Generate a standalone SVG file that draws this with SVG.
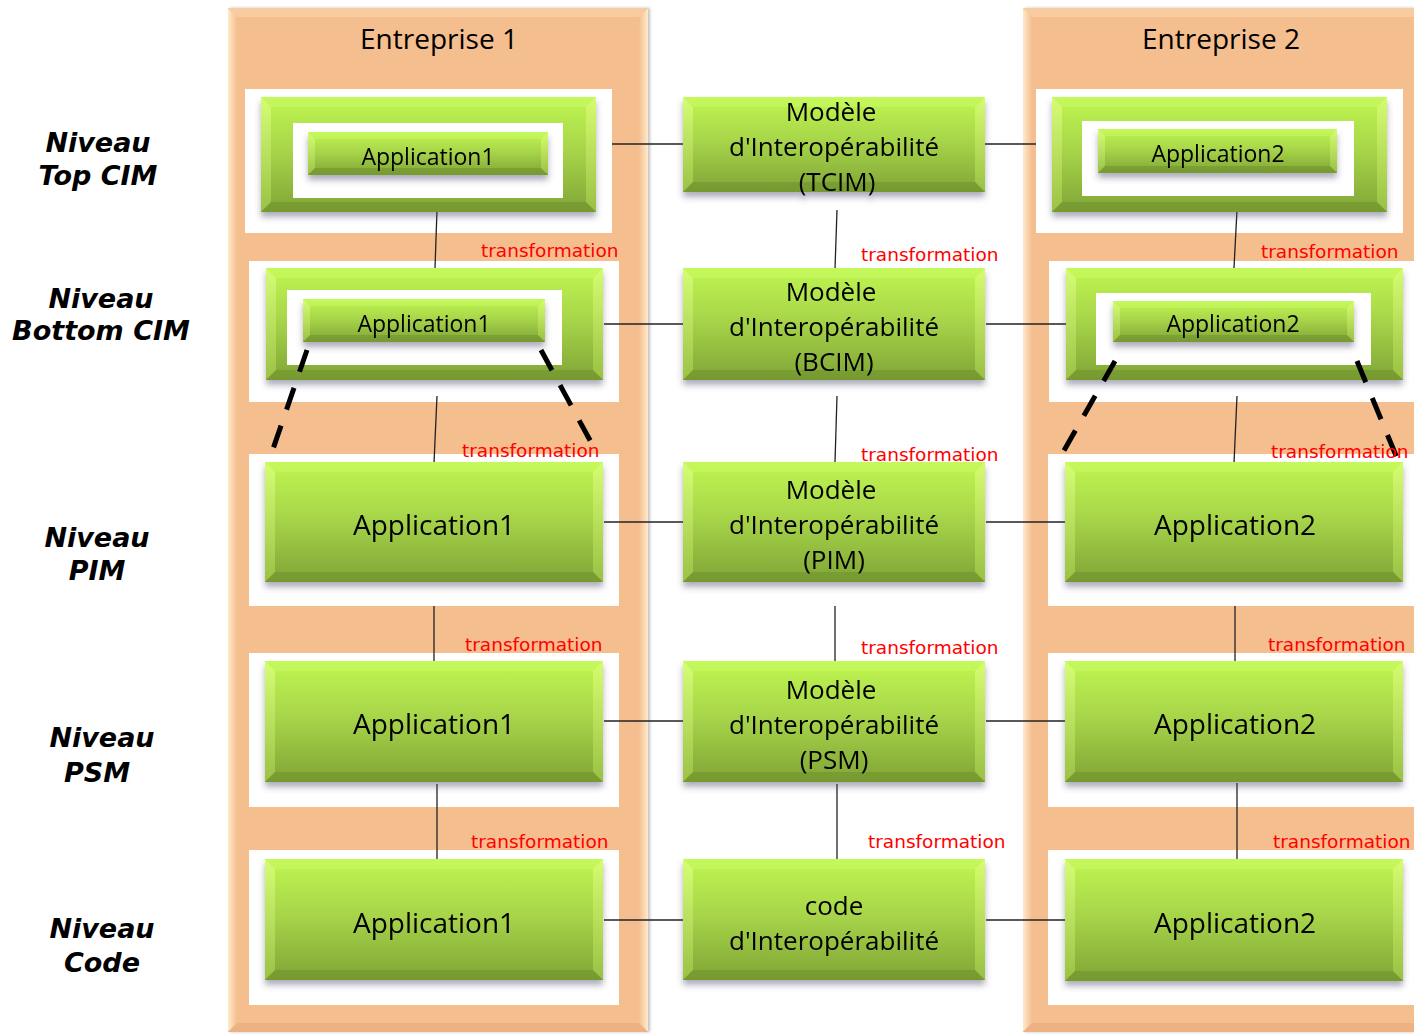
<svg xmlns="http://www.w3.org/2000/svg" width="1414" height="1034" viewBox="0 0 1414 1034">
<style>
.ttl{font-family:"Open Sans","Liberation Sans",sans-serif;font-size:28px;fill:#000;text-anchor:middle}
.big{font-family:"Open Sans","Liberation Sans",sans-serif;font-size:28px;fill:#000;text-anchor:middle}
.sm{font-family:"Open Sans","Liberation Sans",sans-serif;font-size:23px;fill:#000;text-anchor:middle}
.mid{font-family:"Open Sans","Liberation Sans",sans-serif;font-size:26px;fill:#000;text-anchor:middle}
.tr{font-family:"DejaVu Sans","Verdana",sans-serif;font-size:18.5px;fill:#FF0000}
.lvl{font-family:"DejaVu Sans","Verdana",sans-serif;font-size:27px;font-weight:bold;font-style:italic;fill:#000;text-anchor:middle}
.main{fill:url(#gMain)}
.bl{fill:url(#gSideL);opacity:0.75}
.br{fill:url(#gSideR);opacity:0.75}
.bt{fill:#D2FF6C;opacity:0.35}
.bb{fill:#6A8C28;opacity:0.45}
.wf{fill:#FFFFFF}
.pan{fill:#F5BE8F}
.con{stroke:#222;stroke-width:1.3;fill:none}
.dash{stroke:#000;stroke-width:5;stroke-dasharray:23 17;fill:none}
</style>
<defs>
<linearGradient id="gMain" x1="0" y1="0" x2="0" y2="1">
<stop offset="0" stop-color="#BFF651"/>
<stop offset="0.45" stop-color="#A8D64A"/>
<stop offset="1" stop-color="#80A536"/>
</linearGradient>
<linearGradient id="gSideL" x1="0" y1="0" x2="0" y2="1">
<stop offset="0" stop-color="#DCFF80"/>
<stop offset="1" stop-color="#A4CB4A"/>
</linearGradient>
<linearGradient id="gSideR" x1="0" y1="0" x2="0" y2="1">
<stop offset="0" stop-color="#DDFF78"/>
<stop offset="1" stop-color="#A2C948"/>
</linearGradient>
<linearGradient id="gPanL" x1="0" y1="0" x2="1" y2="0">
<stop offset="0" stop-color="#FFEACB"/>
<stop offset="1" stop-color="#F5BE8F"/>
</linearGradient>
<linearGradient id="gPanR" x1="0" y1="0" x2="1" y2="0">
<stop offset="0" stop-color="#F5BE8F"/>
<stop offset="1" stop-color="#FFEACB"/>
</linearGradient>
<filter id="sh" x="-10%" y="-20%" width="120%" height="150%">
<feDropShadow dx="0" dy="5" stdDeviation="3" flood-color="#4a4a6a" flood-opacity="0.45"/>
</filter>
<filter id="psh" x="-5%" y="-5%" width="110%" height="110%">
<feDropShadow dx="2" dy="0" stdDeviation="1.5" flood-color="#777" flood-opacity="0.45"/>
</filter>
</defs>

<!-- panels -->
<g id="entreprise1">
<rect class="pan" x="228" y="8" width="420" height="1024" filter="url(#psh)"/>
<polygon fill="url(#gPanL)" points="228,8 237,17 237,1023 228,1032"/>
<polygon fill="url(#gPanR)" points="648,8 639,17 639,1023 648,1032"/>
<polygon fill="#F8CBA1" points="228,8 648,8 639,17 237,17"/>
<polygon fill="#EDB283" points="228,1032 237,1023 639,1023 648,1032"/>
<text class="ttl" x="439" y="49">Entreprise 1</text>
</g>
<g id="entreprise2">
<rect class="pan" x="1023" y="8" width="400" height="1024" filter="url(#psh)"/>
<polygon fill="url(#gPanL)" points="1023,8 1032,17 1032,1023 1023,1032"/>
<polygon fill="#F8CBA1" points="1023,8 1420,8 1420,17 1032,17"/>
<polygon fill="#EDB283" points="1023,1032 1032,1023 1420,1023 1420,1032"/>
<text class="ttl" x="1221" y="49">Entreprise 2</text>
</g>

<!-- level labels -->
<g id="levels">
<text class="lvl" x="98" y="152">Niveau</text>
<text class="lvl" x="98" y="185">Top CIM</text>
<text class="lvl" x="101" y="308">Niveau</text>
<text class="lvl" x="101" y="340">Bottom CIM</text>
<text class="lvl" x="97" y="547">Niveau</text>
<text class="lvl" x="97" y="580">PIM</text>
<text class="lvl" x="102" y="747">Niveau</text>
<text class="lvl" x="97" y="782">PSM</text>
<text class="lvl" x="102" y="938">Niveau</text>
<text class="lvl" x="102" y="972">Code</text>
</g>

<!-- white frames -->
<g id="frames">
<rect class="wf" x="245" y="89" width="367" height="144"/>
<rect class="wf" x="249" y="261" width="370" height="141"/>
<rect class="wf" x="249" y="454" width="370" height="152"/>
<rect class="wf" x="249" y="653" width="370" height="154"/>
<rect class="wf" x="249" y="850" width="370" height="155"/>
<rect class="wf" x="1036" y="89" width="367" height="144"/>
<rect class="wf" x="1049" y="261" width="370" height="141"/>
<rect class="wf" x="1048" y="454" width="370" height="152"/>
<rect class="wf" x="1048" y="653" width="370" height="154"/>
<rect class="wf" x="1048" y="850" width="370" height="155"/>
</g>

<!-- connectors -->
<g id="connectors">
<line class="con" x1="437" y1="210" x2="435" y2="268"/>
<line class="con" x1="437" y1="396" x2="434" y2="463"/>
<line class="con" x1="434" y1="606" x2="434" y2="662"/>
<line class="con" x1="437" y1="784" x2="437" y2="860"/>
<line class="con" x1="837" y1="210" x2="835" y2="269"/>
<line class="con" x1="837" y1="396" x2="835" y2="462"/>
<line class="con" x1="835" y1="606" x2="835" y2="661"/>
<line class="con" x1="837" y1="784" x2="837" y2="859"/>
<line class="con" x1="1237" y1="210" x2="1234" y2="268"/>
<line class="con" x1="1237" y1="396" x2="1234" y2="463"/>
<line class="con" x1="1235" y1="606" x2="1235" y2="661"/>
<line class="con" x1="1237" y1="783" x2="1237" y2="860"/>
<line class="con" x1="612" y1="144" x2="683" y2="144"/>
<line class="con" x1="985" y1="144" x2="1036" y2="144"/>
<line class="con" x1="604" y1="324" x2="683" y2="324"/>
<line class="con" x1="986" y1="324" x2="1066" y2="324"/>
<line class="con" x1="604" y1="522" x2="683" y2="522"/>
<line class="con" x1="986" y1="522" x2="1065" y2="522"/>
<line class="con" x1="604" y1="721" x2="683" y2="721"/>
<line class="con" x1="986" y1="721" x2="1065" y2="721"/>
<line class="con" x1="604" y1="920" x2="683" y2="920"/>
<line class="con" x1="986" y1="920" x2="1065" y2="920"/>
</g>

<!-- left column -->
<g id="L1" filter="url(#sh)">
<rect class="main" x="261" y="97" width="335" height="115"/>
<polygon class="bl" points="261,97 271,107 271,202 261,212"/>
<polygon class="br" points="596,97 586,107 586,202 596,212"/>
<polygon class="bt" points="261,97 596,97 586,107 271,107"/>
<polygon class="bb" points="261,212 271,202 586,202 596,212"/>
</g>
<rect class="wf" x="293" y="123" width="270" height="75"/>
<g id="L1i" filter="url(#sh)">
<rect class="main" x="308" y="132" width="240" height="43"/>
<polygon class="bl" points="308,132 315,139 315,168 308,175"/>
<polygon class="br" points="548,132 541,139 541,168 548,175"/>
<polygon class="bt" points="308,132 548,132 541,139 315,139"/>
<polygon class="bb" points="308,175 315,168 541,168 548,175"/>
<text class="sm" x="428" y="165">Application1</text>
</g>

<g id="L2" filter="url(#sh)">
<rect class="main" x="266" y="268" width="337" height="112"/>
<polygon class="bl" points="266,268 276,278 276,370 266,380"/>
<polygon class="br" points="603,268 593,278 593,370 603,380"/>
<polygon class="bt" points="266,268 603,268 593,278 276,278"/>
<polygon class="bb" points="266,380 276,370 593,370 603,380"/>
</g>
<rect class="wf" x="287" y="290" width="275" height="75"/>
<g id="L2i" filter="url(#sh)">
<rect class="main" x="303" y="299" width="242" height="43"/>
<polygon class="bl" points="303,299 310,306 310,335 303,342"/>
<polygon class="br" points="545,299 538,306 538,335 545,342"/>
<polygon class="bt" points="303,299 545,299 538,306 310,306"/>
<polygon class="bb" points="303,342 310,335 538,335 545,342"/>
<text class="sm" x="424" y="332">Application1</text>
</g>

<g id="L3" filter="url(#sh)">
<rect class="main" x="265" y="462" width="338" height="120"/>
<polygon class="bl" points="265,462 275,472 275,572 265,582"/>
<polygon class="br" points="603,462 593,472 593,572 603,582"/>
<polygon class="bt" points="265,462 603,462 593,472 275,472"/>
<polygon class="bb" points="265,582 275,572 593,572 603,582"/>
<text class="big" x="434" y="535">Application1</text>
</g>
<g id="L4" filter="url(#sh)">
<rect class="main" x="265" y="661" width="338" height="121"/>
<polygon class="bl" points="265,661 275,671 275,772 265,782"/>
<polygon class="br" points="603,661 593,671 593,772 603,782"/>
<polygon class="bt" points="265,661 603,661 593,671 275,671"/>
<polygon class="bb" points="265,782 275,772 593,772 603,782"/>
<text class="big" x="434" y="734">Application1</text>
</g>
<g id="L5" filter="url(#sh)">
<rect class="main" x="265" y="859" width="338" height="121"/>
<polygon class="bl" points="265,859 275,869 275,970 265,980"/>
<polygon class="br" points="603,859 593,869 593,970 603,980"/>
<polygon class="bt" points="265,859 603,859 593,869 275,869"/>
<polygon class="bb" points="265,980 275,970 593,970 603,980"/>
<text class="big" x="434" y="933">Application1</text>
</g>

<!-- middle column -->
<g id="M1" filter="url(#sh)">
<rect class="main" x="683" y="97" width="302" height="95"/>
<polygon class="bl" points="683,97 693,107 693,182 683,192"/>
<polygon class="br" points="985,97 975,107 975,182 985,192"/>
<polygon class="bt" points="683,97 985,97 975,107 693,107"/>
<polygon class="bb" points="683,192 693,182 975,182 985,192"/>
<text class="mid" x="831" y="121">Modèle</text>
<text class="mid" x="834" y="156">d'Interopérabilité</text>
<text class="mid" x="837" y="191">(TCIM)</text>
</g>
<g id="M2" filter="url(#sh)">
<rect class="main" x="683" y="268" width="302" height="112"/>
<polygon class="bl" points="683,268 693,278 693,370 683,380"/>
<polygon class="br" points="985,268 975,278 975,370 985,380"/>
<polygon class="bt" points="683,268 985,268 975,278 693,278"/>
<polygon class="bb" points="683,380 693,370 975,370 985,380"/>
<text class="mid" x="831" y="301">Modèle</text>
<text class="mid" x="834" y="336">d'Interopérabilité</text>
<text class="mid" x="834" y="371">(BCIM)</text>
</g>
<g id="M3" filter="url(#sh)">
<rect class="main" x="683" y="462" width="302" height="120"/>
<polygon class="bl" points="683,462 693,472 693,572 683,582"/>
<polygon class="br" points="985,462 975,472 975,572 985,582"/>
<polygon class="bt" points="683,462 985,462 975,472 693,472"/>
<polygon class="bb" points="683,582 693,572 975,572 985,582"/>
<text class="mid" x="831" y="499">Modèle</text>
<text class="mid" x="834" y="534">d'Interopérabilité</text>
<text class="mid" x="834" y="569">(PIM)</text>
</g>
<g id="M4" filter="url(#sh)">
<rect class="main" x="683" y="661" width="302" height="121"/>
<polygon class="bl" points="683,661 693,671 693,772 683,782"/>
<polygon class="br" points="985,661 975,671 975,772 985,782"/>
<polygon class="bt" points="683,661 985,661 975,671 693,671"/>
<polygon class="bb" points="683,782 693,772 975,772 985,782"/>
<text class="mid" x="831" y="699">Modèle</text>
<text class="mid" x="834" y="734">d'Interopérabilité</text>
<text class="mid" x="834" y="769">(PSM)</text>
</g>
<g id="M5" filter="url(#sh)">
<rect class="main" x="683" y="859" width="302" height="121"/>
<polygon class="bl" points="683,859 693,869 693,970 683,980"/>
<polygon class="br" points="985,859 975,869 975,970 985,980"/>
<polygon class="bt" points="683,859 985,859 975,869 693,869"/>
<polygon class="bb" points="683,980 693,970 975,970 985,980"/>
<text class="mid" x="834" y="915">code</text>
<text class="mid" x="834" y="950">d'Interopérabilité</text>
</g>

<!-- right column -->
<g id="R1" filter="url(#sh)">
<rect class="main" x="1052" y="97" width="335" height="115"/>
<polygon class="bl" points="1052,97 1062,107 1062,202 1052,212"/>
<polygon class="br" points="1387,97 1377,107 1377,202 1387,212"/>
<polygon class="bt" points="1052,97 1387,97 1377,107 1062,107"/>
<polygon class="bb" points="1052,212 1062,202 1377,202 1387,212"/>
</g>
<rect class="wf" x="1082" y="121" width="272" height="75"/>
<g id="R1i" filter="url(#sh)">
<rect class="main" x="1098" y="129" width="239" height="44"/>
<polygon class="bl" points="1098,129 1105,136 1105,166 1098,173"/>
<polygon class="br" points="1337,129 1330,136 1330,166 1337,173"/>
<polygon class="bt" points="1098,129 1337,129 1330,136 1105,136"/>
<polygon class="bb" points="1098,173 1105,166 1330,166 1337,173"/>
<text class="sm" x="1218" y="162">Application2</text>
</g>

<g id="R2" filter="url(#sh)">
<rect class="main" x="1066" y="268" width="337" height="112"/>
<polygon class="bl" points="1066,268 1076,278 1076,370 1066,380"/>
<polygon class="br" points="1403,268 1393,278 1393,370 1403,380"/>
<polygon class="bt" points="1066,268 1403,268 1393,278 1076,278"/>
<polygon class="bb" points="1066,380 1076,370 1393,370 1403,380"/>
</g>
<rect class="wf" x="1096" y="293" width="275" height="72"/>
<g id="R2i" filter="url(#sh)">
<rect class="main" x="1113" y="301" width="241" height="41"/>
<polygon class="bl" points="1113,301 1120,308 1120,335 1113,342"/>
<polygon class="br" points="1354,301 1347,308 1347,335 1354,342"/>
<polygon class="bt" points="1113,301 1354,301 1347,308 1120,308"/>
<polygon class="bb" points="1113,342 1120,335 1347,335 1354,342"/>
<text class="sm" x="1233" y="332">Application2</text>
</g>

<g id="R3" filter="url(#sh)">
<rect class="main" x="1065" y="462" width="338" height="120"/>
<polygon class="bl" points="1065,462 1075,472 1075,572 1065,582"/>
<polygon class="br" points="1403,462 1393,472 1393,572 1403,582"/>
<polygon class="bt" points="1065,462 1403,462 1393,472 1075,472"/>
<polygon class="bb" points="1065,582 1075,572 1393,572 1403,582"/>
<text class="big" x="1235" y="535">Application2</text>
</g>
<g id="R4" filter="url(#sh)">
<rect class="main" x="1065" y="661" width="338" height="121"/>
<polygon class="bl" points="1065,661 1075,671 1075,772 1065,782"/>
<polygon class="br" points="1403,661 1393,671 1393,772 1403,782"/>
<polygon class="bt" points="1065,661 1403,661 1393,671 1075,671"/>
<polygon class="bb" points="1065,782 1075,772 1393,772 1403,782"/>
<text class="big" x="1235" y="734">Application2</text>
</g>
<g id="R5" filter="url(#sh)">
<rect class="main" x="1065" y="859" width="338" height="122"/>
<polygon class="bl" points="1065,859 1075,869 1075,971 1065,981"/>
<polygon class="br" points="1403,859 1393,869 1393,971 1403,981"/>
<polygon class="bt" points="1065,859 1403,859 1393,869 1075,869"/>
<polygon class="bb" points="1065,981 1075,971 1393,971 1403,981"/>
<text class="big" x="1235" y="933">Application2</text>
</g>

<!-- dashed zoom lines -->
<g id="dashes">
<line class="dash" x1="307" y1="350" x2="272" y2="452"/>
<line class="dash" x1="541" y1="350" x2="592" y2="444"/>
<line class="dash" x1="1115" y1="361" x2="1062" y2="454"/>
<line class="dash" x1="1357" y1="361" x2="1397" y2="458"/>
</g>

<!-- transformation labels -->
<g id="labels">
<text class="tr" x="481" y="257">transformation</text>
<text class="tr" x="462" y="457">transformation</text>
<text class="tr" x="465" y="651">transformation</text>
<text class="tr" x="471" y="848">transformation</text>
<text class="tr" x="861" y="261">transformation</text>
<text class="tr" x="861" y="461">transformation</text>
<text class="tr" x="861" y="654">transformation</text>
<text class="tr" x="868" y="848">transformation</text>
<text class="tr" x="1261" y="258">transformation</text>
<text class="tr" x="1271" y="458">transformation</text>
<text class="tr" x="1268" y="651">transformation</text>
<text class="tr" x="1273" y="848">transformation</text>
</g>
</svg>
